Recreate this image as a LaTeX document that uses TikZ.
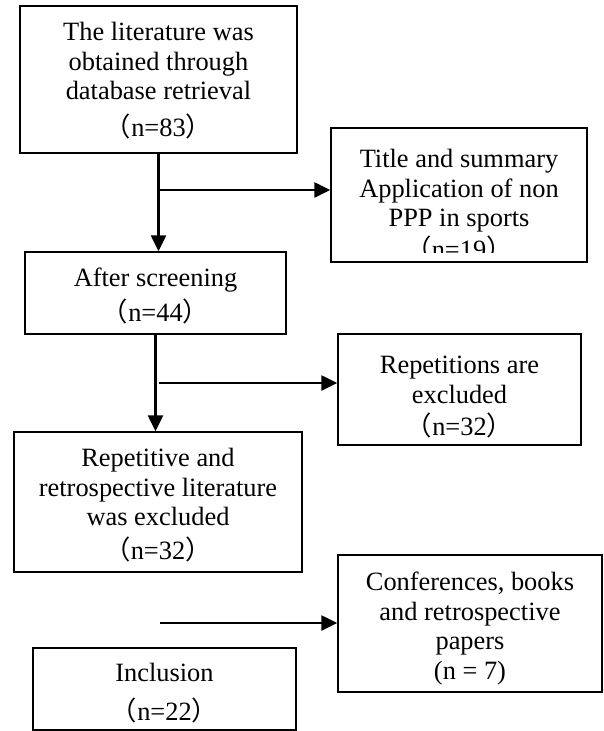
\documentclass[tikz,border=0pt]{standalone}
\usepackage{fontspec}
\setmainfont{Liberation Serif}
\newfontfamily\cjk{Noto Sans CJK SC}
\usetikzlibrary{arrows.meta}
\newcommand{\lpar}{{\cjk （}}
\newcommand{\rpar}{{\cjk ）}}
\begin{document}
\begin{tikzpicture}[x=1pt,y=-1pt,
  box/.style={draw, line width=1.4pt, rectangle, inner sep=0pt},
  txt/.style={inner sep=0pt, align=center, font=\fontsize{26.4}{29.5}\selectfont},
  arr/.style={line width=2.4pt, -{Triangle[length=16pt,width=15pt]}},
]
\useasboundingbox (0,0) rectangle (603,731);

\node[box, minimum width=277pt, minimum height=147pt] (b1) at (158.5,79.5) {};
\node[txt] (b1t) at ([yshift=-1pt]b1.center)
  {The literature was\\obtained through\\database retrieval\\[7pt]\lpar n=83\rpar};

\node[box, minimum width=256pt, minimum height=134pt] (t) at (459,195) {};
\begin{scope}
  \clip (t.north west) rectangle ([yshift=10pt]t.south east);
  \node[txt] (tt) at (459,205)
    {Title and summary\\Application of non\\PPP in sports\\[2pt]\lpar n=19\rpar};
\end{scope}

\node[box, minimum width=261pt, minimum height=82pt] (b2) at (155.5,293) {};
\node[txt] (b2t) at ([yshift=-3pt]b2.center) {After screening\\[5pt]\lpar n=44\rpar};

\node[box, minimum width=243pt, minimum height=111pt] (rep) at (459.5,389.5) {};
\node[txt] (rept) at ([yshift=-8pt]rep.center)
  {Repetitions are\\excluded\\[3pt]\lpar n=32\rpar};

\node[box, minimum width=288pt, minimum height=140pt] (b3) at (158,502) {};
\node[txt] (b3t) at ([yshift=-3pt]b3.center)
  {Repetitive and\\retrospective literature\\was excluded\\[4pt]\lpar n=32\rpar};

\node[box, minimum width=264pt, minimum height=137pt] (conf) at (470,623.5) {};
\node[txt] (conft) at ([yshift=-5pt]conf.center)
  {Conferences, books\\and retrospective\\papers\\(n = 7)};

\node[box, minimum width=263pt, minimum height=82pt] (inc) at (164.5,689) {};
\node[txt] (inct) at ([yshift=-4pt]inc.center) {Inclusion\\[10pt]\lpar n=22\rpar};

\draw[arr] (b1.south) -- (b1.south |- b2.north);
\coordinate (j1) at (158.5,190);
\draw[arr] (j1) -- (t.west |- j1);

\draw[arr] (b2.south) -- (b2.south |- b3.north);
\coordinate (j2) at (159,383);
\draw[arr] (j2) -- (rep.west |- j2);

\coordinate (j3) at (160,623);
\draw[arr] (j3) -- (conf.west |- j3);
\end{tikzpicture}
\end{document}
